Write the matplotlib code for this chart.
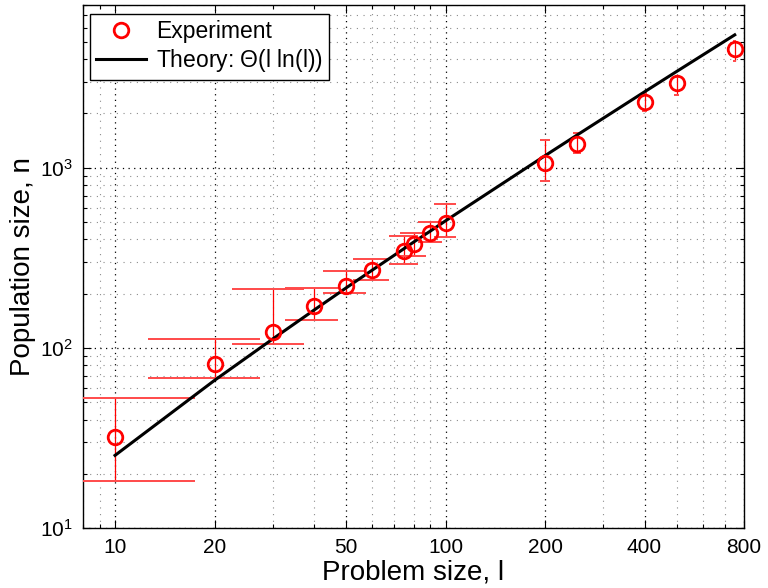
import numpy as np
import matplotlib
matplotlib.use("Agg")
import matplotlib.pyplot as plt
from matplotlib.ticker import FixedLocator, NullFormatter, LogLocator, FixedFormatter

plt.rcParams['font.family'] = ['Liberation Sans', 'DejaVu Sans']
plt.rcParams['mathtext.fontset'] = 'custom'
plt.rcParams['mathtext.rm'] = 'Liberation Sans'
plt.rcParams['mathtext.it'] = 'Liberation Sans:italic'

# ---- data ----
problem_size = [10, 20, 30, 40, 50, 60, 75, 80, 90, 100, 200, 250, 400, 500, 750]
population = [32, 81, 123, 171, 221, 271, 346, 378, 435, 495, 1067, 1360, 2327, 2966, 4580]
err_upper = [53, 112, 213, 215, 268, 312, 419, 435, 501, 631, 1432, 1564, 2610, 3205, 5080]
err_lower = [18.3, 68, 105, 143, 202, 239, 293, 324, 388, 414, 847, 1211, 2074, 2545, 3929]
theory = [25.3, 66, 112, 162, 215, 270, 356, 386, 445, 507, 1166, 1518, 2637, 3418, 5462]
x_ticks = [10, 20, 50, 100, 200, 400, 800]
x_tick_labels = ['10', '20', '50', '100', '200', '400', '800']
y_ticks = [10, 100, 1000]
y_tick_labels = [r'$10^{1}$', r'$10^{2}$', r'$10^{3}$']

x = np.array(problem_size, float)
y = np.array(population, float)
yu = np.array(err_upper, float)
yl = np.array(err_lower, float)

fig = plt.figure(figsize=(7.68, 5.88), dpi=100)
ax = fig.add_axes([83/768, 1-528/588, (744-83)/768, (528-5)/588])
ax.set_xscale('log')
ax.set_yscale('log')
ax.set_xlim(8, 800)
ax.set_ylim(10, 8000)

# grid
ax.xaxis.set_major_locator(FixedLocator(x_ticks))
ax.xaxis.set_major_formatter(FixedFormatter(x_tick_labels))
ax.xaxis.set_minor_locator(LogLocator(base=10, subs=np.arange(1, 10), numticks=20))
ax.xaxis.set_minor_formatter(NullFormatter())
ax.yaxis.set_major_locator(FixedLocator(y_ticks))
ax.yaxis.set_major_formatter(FixedFormatter(y_tick_labels))
ax.yaxis.set_minor_locator(LogLocator(base=10, subs=np.arange(2, 10), numticks=20))
ax.yaxis.set_minor_formatter(NullFormatter())

ax.grid(True, which='major', color='black', linestyle=(0, (1, 3.5)), linewidth=0.9)
ax.grid(True, which='minor', color='0.55', linestyle=(0, (1, 5)), linewidth=0.8)
ax.set_axisbelow(True)

# error bars, MATLAB-style caps (width = range/100 in data units)
tee = (x.max() - x.min()) / 100.0
ax.vlines(x, yl, yu, color='red', linewidth=0.9, zorder=3)
ax.hlines(yu, x - tee, x + tee, color='#ff4a4a', linewidth=1.4, zorder=3)
ax.hlines(yl, x - tee, x + tee, color='#ff4a4a', linewidth=1.4, zorder=3)

ax.plot(x, y, 'o', markersize=10.5, markerfacecolor='none', markeredgecolor='red',
        markeredgewidth=2.0, label='Experiment', zorder=5)
ax.plot(x, theory, '-', color='black', linewidth=2.2, label=r'Theory: $\Theta$(l ln(l))', zorder=4)

ax.tick_params(which='both', direction='in', top=True, right=True, labelsize=15,
               width=0.8, color='black')
ax.tick_params(which='major', length=6, pad=7)
ax.tick_params(which='minor', length=3)
for s in ax.spines.values():
    s.set_linewidth(1.0)

ax.set_xlabel('Problem size, l', fontsize=20, labelpad=2)
ax.set_ylabel('Population size, n', fontsize=20, labelpad=3)

leg = ax.legend(loc='upper left', bbox_to_anchor=(0.0106, 0.983), fontsize=16.5,
                frameon=True, fancybox=False, framealpha=1, edgecolor='black',
                borderpad=0.25, handlelength=2.2, handletextpad=0.45, labelspacing=0.2,
                borderaxespad=0)
leg.get_frame().set_linewidth(1.0)

fig.savefig('out.png', dpi=100)
